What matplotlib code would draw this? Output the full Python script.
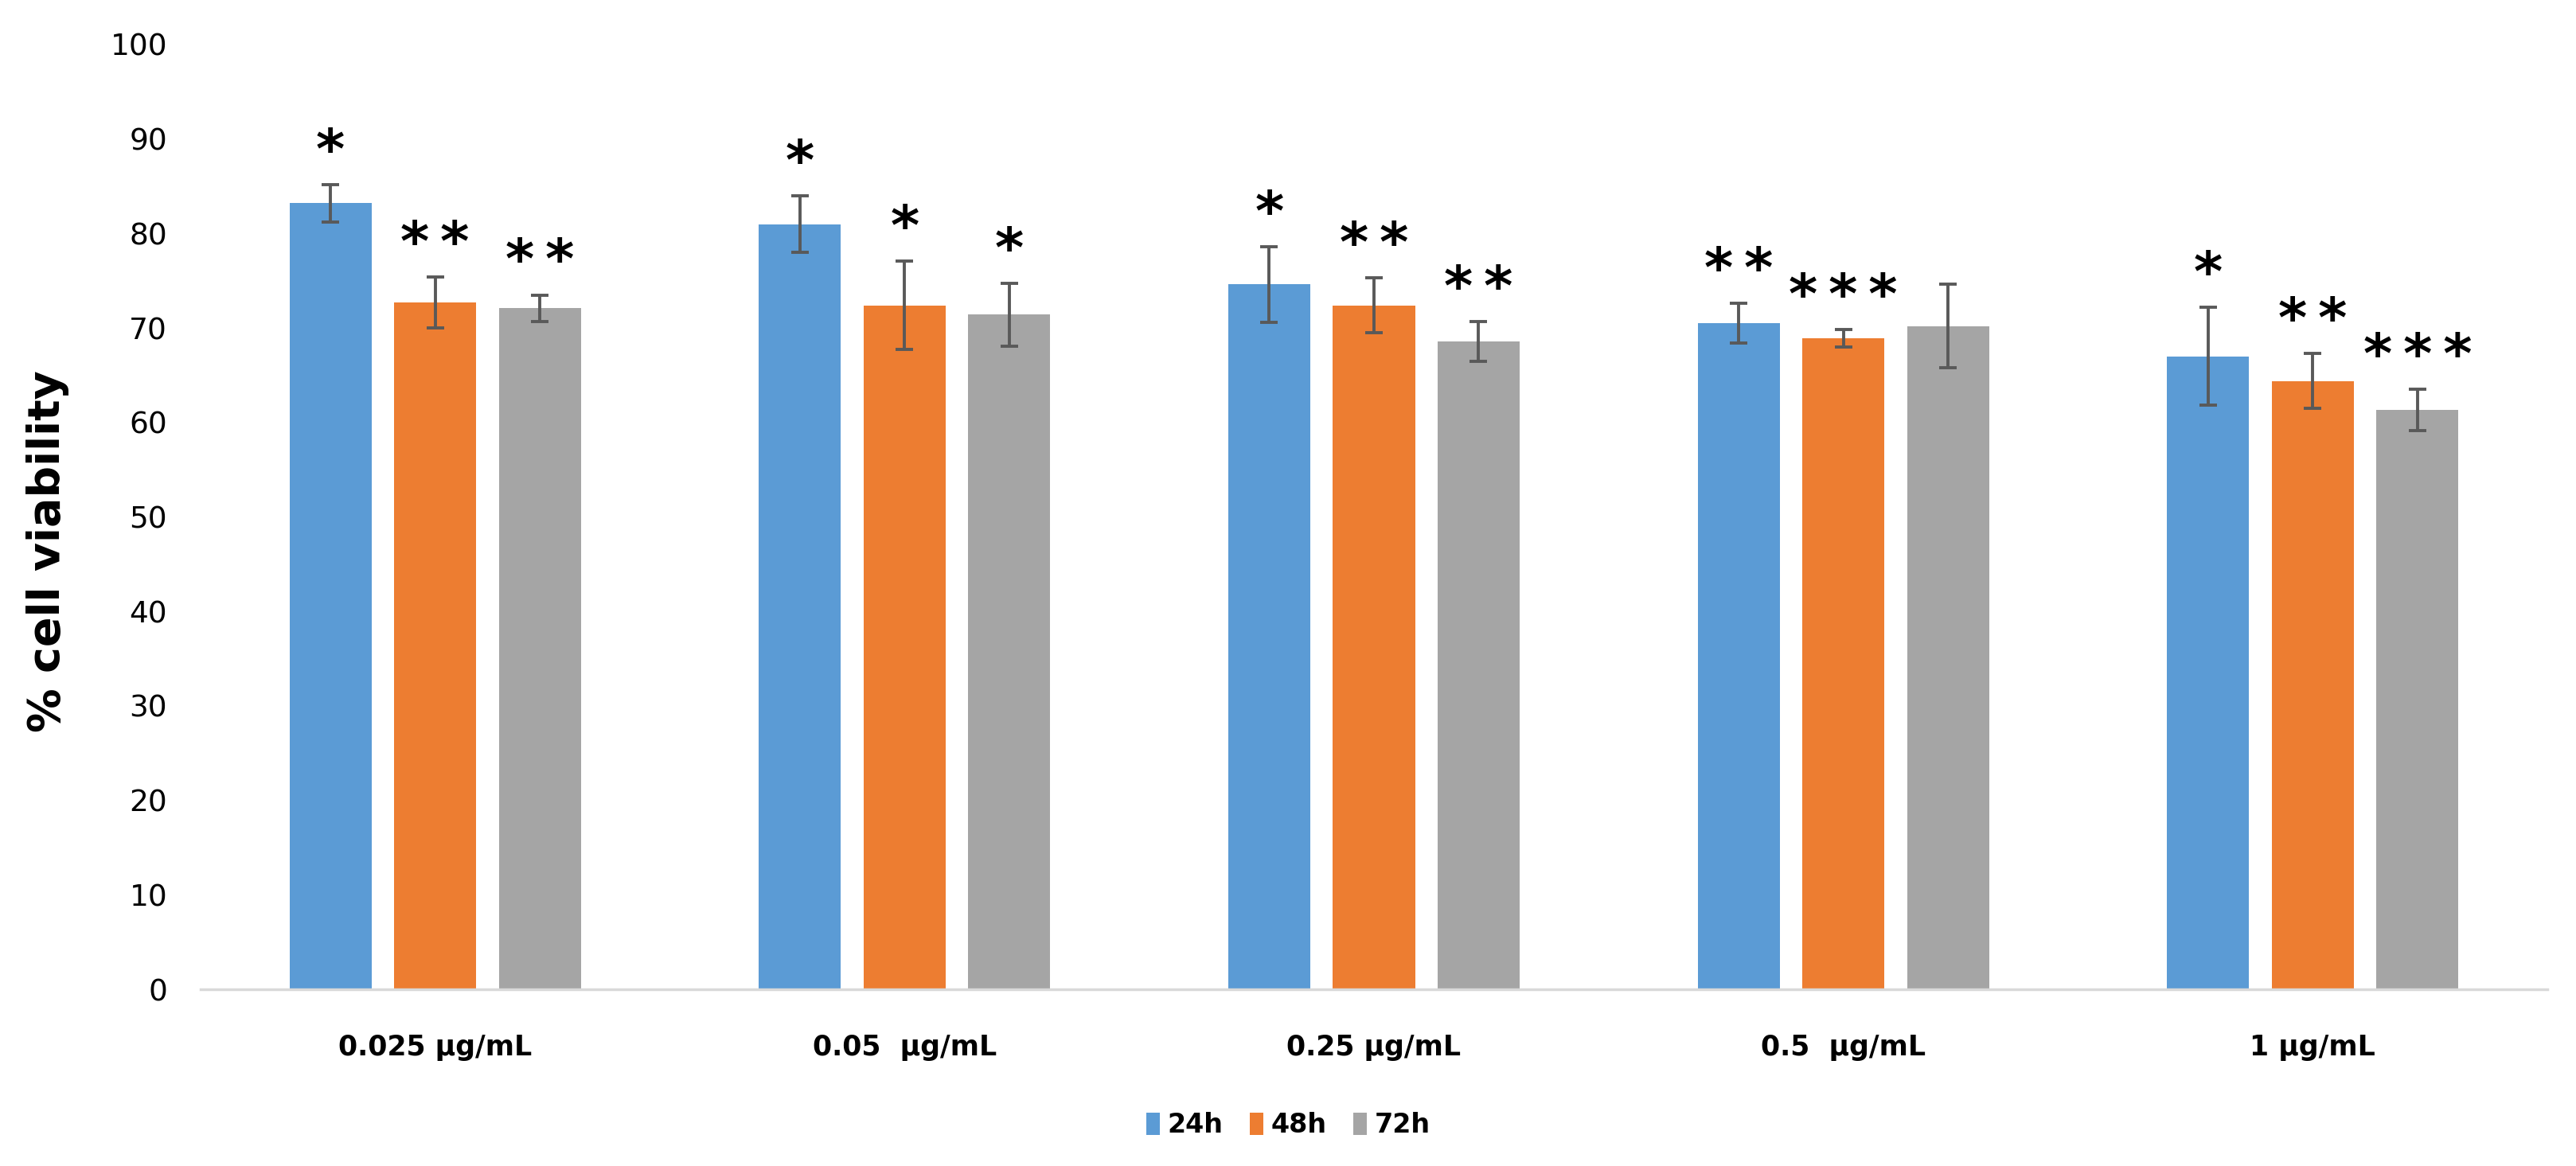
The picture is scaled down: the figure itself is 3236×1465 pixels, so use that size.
import numpy as np
import matplotlib.pyplot as plt

# 数据
categories = ['0.025 µg/mL', '0.05  µg/mL', '0.25 µg/mL', '0.5  µg/mL', '1 µg/mL']
series = ['24h', '48h', '72h']
viab_24h = [83.2, 81.0, 74.6, 70.5, 67.0]
viab_48h = [72.7, 72.4, 72.4, 68.9, 64.4]
viab_72h = [72.1, 71.4, 68.6, 70.2, 61.3]
err_24h = [2.0, 3.0, 4.0, 2.1, 5.2]
err_48h = [2.7, 4.7, 2.9, 0.9, 2.9]
err_72h = [1.4, 3.3, 2.1, 4.4, 2.2]
sig_24h = ['*', '*', '*', '**', '*']
sig_48h = ['**', '*', '**', '***', '**']
sig_72h = ['**', '*', '**', '', '***']

colors = ['#5B9BD5', '#ED7D31', '#A5A5A5']

plt.rcParams['font.family'] = ['DejaVu Sans']

fig = plt.figure(figsize=(32.37, 14.65), dpi=100)
ax = fig.add_axes([0.0778, 0.1515, 0.9108, 0.8103])

x = np.arange(len(categories))
width = 0.175
offsets = [-0.223, 0, 0.223]
values = [viab_24h, viab_48h, viab_72h]
errors = [err_24h, err_48h, err_72h]
sigs = [sig_24h, sig_48h, sig_72h]

for i in range(3):
    ax.bar(x + offsets[i], values[i], width, color=colors[i], label=series[i], zorder=2)
    ax.errorbar(x + offsets[i], values[i], yerr=errors[i], fmt='none', ecolor='#595959',
                elinewidth=2.8, capsize=8, capthick=2.8, zorder=3)
    # 显著性星号
    for j in range(len(categories)):
        if sigs[i][j]:
            ax.text(x[j] + offsets[i], values[i][j] + errors[i][j] + 0.6, '\u2009'.join(sigs[i][j]),
                    ha='center', va='bottom', fontsize=50, fontweight='bold', color='black')

ax.set_xlim(-0.5, len(categories) - 0.5)
ax.set_ylim(0, 100)
ax.set_yticks(np.arange(0, 101, 10))
ax.set_xticks(x)
ax.set_xticklabels(categories, fontsize=25, fontweight='bold')
ax.tick_params(axis='y', length=0, pad=30, labelsize=27)
ax.tick_params(axis='x', length=0, pad=40)
for s in ['top', 'right', 'left']:
    ax.spines[s].set_visible(False)
ax.spines['bottom'].set_color('#D9D9D9')
ax.spines['bottom'].set_linewidth(2.5)

ax.set_ylabel('% cell viability', fontsize=40, fontweight='bold')
ax.yaxis.set_label_coords(-0.056, 0.4635)

fig.legend(loc='center', bbox_to_anchor=(0.5, 0.035), ncol=3, frameon=False,
           prop={'size': 24, 'weight': 'bold'}, handlelength=0.5, handleheight=0.9,
           handletextpad=0.3, columnspacing=1.0)

plt.savefig('out.png', dpi=100)
